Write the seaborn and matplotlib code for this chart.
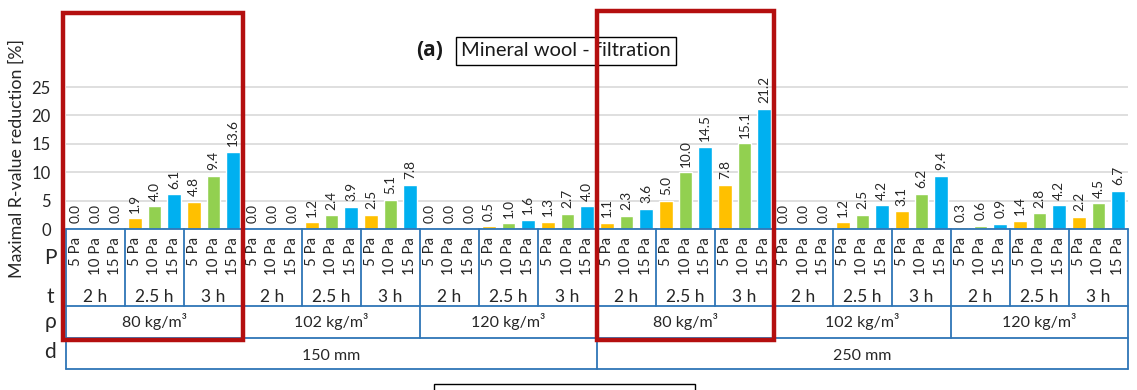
import numpy as np
import pandas as pd
import matplotlib
matplotlib.use("Agg")
import matplotlib.pyplot as plt
from matplotlib.patches import Rectangle
import seaborn as sns

# data: maximal R-value reduction [%], one list per pressure
# order: d (150, 250 mm) -> rho (80, 102, 120) -> t (2, 2.5, 3 h)
thickness = ["150 mm", "250 mm"]
density = ["80 kg/m³", "102 kg/m³", "120 kg/m³"]
times = ["2 h", "2.5 h", "3 h"]
pressures = ["5 Pa", "10 Pa", "15 Pa"]

p5 = [0.0, 1.9, 4.8, 0.0, 1.2, 2.5, 0.0, 0.5, 1.3,
      1.1, 5.0, 7.8, 0.0, 1.2, 3.1, 0.3, 1.4, 2.2]
p10 = [0.0, 4.0, 9.4, 0.0, 2.4, 5.1, 0.0, 1.0, 2.7,
       2.3, 10.0, 15.1, 0.0, 2.5, 6.2, 0.6, 2.8, 4.5]
p15 = [0.0, 6.1, 13.6, 0.0, 3.9, 7.8, 0.0, 1.6, 4.0,
       3.6, 14.5, 21.2, 0.0, 4.2, 9.4, 0.9, 4.2, 6.7]

colors = {"5 Pa": "#FFC000", "10 Pa": "#92D050", "15 Pa": "#00B0F0"}

# long table, one row per bar
rows = []
for g in range(18):
    for p, vals in zip(pressures, [p5, p10, p15]):
        rows.append({"bar": f"{g}-{p}", "P": p, "value": vals[g]})
df = pd.DataFrame(rows)
order = list(df["bar"])
n = len(order)

sns.set_style("white")
plt.rcParams["font.family"] = ["Lato", "DejaVu Sans"]

W, H = 1137, 390
fig = plt.figure(figsize=(W / 100, H / 100), dpi=100)

def fx(x):
    return x / W

def fy(y):
    return 1 - y / H

txt = "#262626"

# main bar axes (pixel layout)
x0, x1 = 66, 1128
y_zero, y_top = 229, 58.6
ax = fig.add_axes([fx(x0), fy(y_zero), fx(x1 - x0), (y_zero - y_top) / H])
sns.barplot(data=df, x="bar", y="value", hue="P", order=order,
            hue_order=pressures, palette=colors, dodge=False, width=0.7,
            saturation=1, legend=False, ax=ax, zorder=3)
for c in ax.containers:
    ax.bar_label(c, fmt="%.1f", rotation=90, padding=4, fontsize=9.8,
                 color=txt)
ax.set_xlim(-0.5, n - 0.5)
ax.set_ylim(0, 30)
ax.set_yticks([0, 5, 10, 15, 20, 25])
ax.yaxis.grid(True, color="#D9D9D9", lw=1.2, zorder=0)
ax.tick_params(axis="y", length=0, labelsize=12, colors=txt, pad=11)
ax.set_xticks([])
ax.set_xlabel("")
ax.set_ylabel("")
for s in ax.spines.values():
    s.set_visible(False)

fig.text(fx(17), fy(158), "Maximal R-value reduction [%]", rotation=90,
         ha="center", va="center", fontsize=12.8, color=txt)

# category table under the bars
y_bot = 369
tb = fig.add_axes([fx(x0), fy(y_bot), fx(x1 - x0), (y_bot - y_zero) / H])
tb.set_xlim(-0.5, n - 0.5)
tb.set_ylim(y_bot, y_zero)
tb.axis("off")
lc = "#2E75B6"
lw = 1.3
y_t, y_rho = 306, 338
for y in [y_zero, y_t, y_rho, y_bot]:
    tb.plot([-0.5, n - 0.5], [y, y], color=lc, lw=lw, clip_on=False)
for xb in [-0.5, n - 0.5]:
    tb.plot([xb, xb], [y_zero, y_bot], color=lc, lw=lw, clip_on=False)
for k in range(1, 18):
    xb = 3 * k - 0.5
    if k % 9 == 0:
        y_end = y_bot
    elif k % 3 == 0:
        y_end = y_rho
    else:
        y_end = y_t
    tb.plot([xb, xb], [y_zero, y_end], color=lc, lw=lw, clip_on=False)

for i, name in enumerate(order):
    p = name.split("-")[1]
    tb.text(i, 237, p, rotation=90, ha="center", va="top", fontsize=10.8,
            color=txt)
for k in range(18):
    tb.text(3 * k + 1, 297, times[k % 3], ha="center", va="center",
            fontsize=12.5, color=txt)
for k in range(6):
    tb.text(9 * k + 4, 322, density[k % 3], ha="center", va="center",
            fontsize=11.5, color=txt)
for k in range(2):
    tb.text(27 * k + 13, 356, thickness[k], ha="center", va="center",
            fontsize=11.5, color=txt)

for lab, y in zip(["P", "t", "ρ", "d"], [258, 297, 322, 352]):
    fig.text(fx(50), fy(y), lab, ha="center", va="center", fontsize=15,
             color=txt)

# title
fig.text(fx(430), fy(51), "(a)", ha="center", va="center", fontsize=15,
         fontweight="bold", family=["Open Sans", "DejaVu Sans"],
         color="#1a1a1a")
fig.text(fx(566), fy(51), "Mineral wool - filtration", ha="center",
         va="center", fontsize=14.5, color="#1a1a1a",
         bbox=dict(boxstyle="square,pad=0.25", fc="white", ec="black", lw=1))

# red highlight boxes
for (bx0, by0, bx1, by1) in [(63, 13, 243, 340), (597, 10.5, 774, 340)]:
    fig.patches.append(Rectangle((fx(bx0), fy(by1)), fx(bx1 - bx0),
                                 (by1 - by0) / H, transform=fig.transFigure,
                                 fill=False, ec="#B40F0F", lw=3.2, zorder=10))

# start of the next panel, cut off at the bottom edge
fig.patches.append(Rectangle((fx(434), fy(395)), fx(261), 11 / H,
                             transform=fig.transFigure, fill=False,
                             ec="black", lw=1, zorder=5))

fig.savefig("out.png", dpi=100)
